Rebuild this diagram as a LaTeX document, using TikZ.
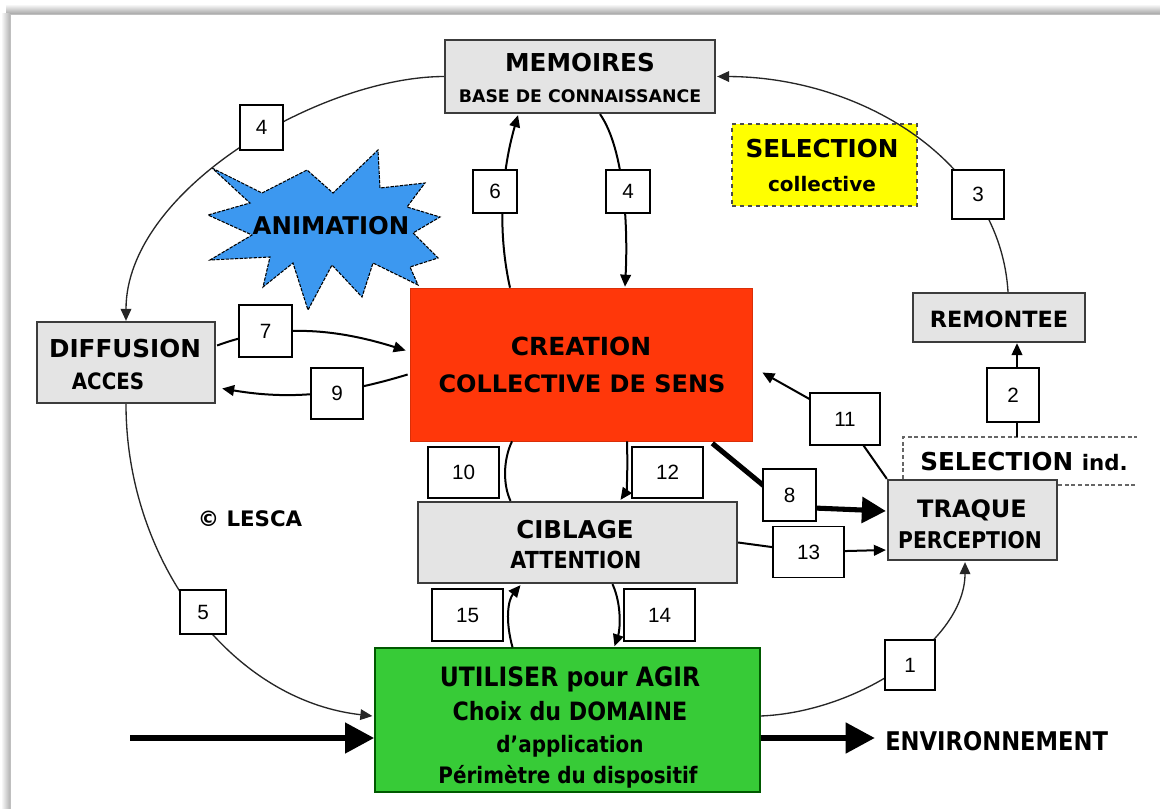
\documentclass[tikz,border=0pt]{standalone}
\usepackage{fontspec}
\setmainfont{DejaVu Sans}
\newfontfamily\condfont[FakeStretch=0.88]{DejaVu Sans}
\newfontfamily\digitfont{Liberation Sans}
\usetikzlibrary{arrows.meta,calc}
\definecolor{boxgray}{RGB}{228,228,228}
\definecolor{framegray}{RGB}{60,60,60}
\definecolor{hotred}{RGB}{255,55,10}
\definecolor{leafgreen}{RGB}{55,203,55}
\definecolor{starblue}{RGB}{60,152,240}
\definecolor{selyellow}{RGB}{255,255,0}
\newcommand{\setfs}[1]{\fontsize{#1}{#1}\selectfont}
\pgfdeclarelayer{blocks}
\pgfdeclarelayer{lines}
\pgfsetlayers{blocks,lines,main}

\begin{document}
\begin{tikzpicture}[x=0.75pt,y=-0.75pt,
  sz/.style 2 args={minimum width=#1*0.75pt,minimum height=#2*0.75pt},
  grey box/.style={draw=framegray,line width=1.7pt,fill=boxgray,inner sep=0pt},
  numbox/.style={draw=black,line width=0.9pt,fill=white,inner sep=0pt,
    font=\digitfont\setfs{15.5}},
  lbl/.style={anchor=base,inner sep=0pt,text=black},
  ring/.style={draw=black!85,line width=1pt},
  link/.style={draw=black,line width=1.5pt},
  tip/.style={-{Triangle[length=9pt,width=8pt]}},
  bigtip/.style={-{Triangle[length=22pt,width=22pt]}},
  seldash/.style={draw=black!60,line width=0.9pt,dash pattern=on 3pt off 2pt}
]
\useasboundingbox (0,0) rectangle (1160,809);

\begin{pgfonlayer}{blocks}
\fill[white] (0,0) rectangle (1160,809);
% panel edge with its soft shadow
\shade[top color=white,bottom color=black!35] (6,4) rectangle (1160,14);
\shade[left color=white,right color=black!30] (1,14) rectangle (10,809);
\draw[black!25,line width=0.6pt] (10,809) -- (10,14.5) -- (1160,14.5);

% ---------------- main blocks ----------------
\node[grey box,sz={270}{73}] (mem) at (580,76.5) {};
\node[draw=black!70,dashed,line width=1pt,fill=selyellow,sz={185}{82}] (selc) at (824.5,165) {};
\node[grey box,sz={178}{81}] (diff) at (126,362.5) {};
\node[fill=hotred,draw=hotred!85!black,line width=0.5pt,sz={342}{153}] (crea) at (581,364.5) {};
\node[grey box,sz={172}{49}] (rem) at (999,317.5) {};
\node[grey box,sz={169}{80}] (traq) at (972.5,520) {};
\node[grey box,sz={319}{81}] (cib) at (577.5,542.5) {};
\node[fill=leafgreen,draw=green!35!black,line width=1pt,sz={385}{144}] (util) at (567.5,720) {};

% burst shape
\draw[fill=starblue,draw=black,line width=0.8pt,dash pattern=on 2.5pt off 1pt]
  (212,168) -- (262,193) -- (307,170) -- (333,193) -- (378,150) -- (380,188)
  -- (425,183) -- (407,207) -- (440,217) -- (413,233) -- (438,258) -- (410,267)
  -- (418,285) -- (373,263) -- (362,297) -- (332,265) -- (308,310) -- (293,263)
  -- (263,287) -- (270,257) -- (210,260) -- (252,235) -- (208,215) -- (250,203)
  -- cycle;

% individual selection frame
\coordinate (sa) at (903,437);
\coordinate (sb) at (1137,437);
\coordinate (sc) at (1137,485);
\coordinate (s2) at (1017,437);
\draw[seldash] (sa |- traq.north) -- (sa) -- (sb);
\draw[seldash] (traq.east |- sc) -- (sc);
\end{pgfonlayer}

% ---------------- texts ----------------
\node[lbl,font=\bfseries\setfs{18.5}] (memA) at (580,72) {MEMOIRES};
\node[lbl,font=\bfseries\setfs{13}] (memB) at (580,103) {BASE DE CONNAISSANCE};
\node[lbl,font=\bfseries\setfs{18.5}] (selA) at (822,158) {SELECTION};
\node[lbl,font=\bfseries\setfs{15}] (selB) at (822,192) {collective};
\node[lbl,font=\bfseries\setfs{18.3}] (anim) at (331,235) {ANIMATION};
\node[lbl,font=\bfseries\setfs{18.5}] (diffA) at (125,357) {DIFFUSION};
\node[lbl,font=\condfont\bfseries\setfs{16.9}] (diffB) at (108,389) {ACCES};
\node[lbl,font=\bfseries\setfs{18.7}] (creaA) at (581,355) {CREATION};
\node[lbl,font=\bfseries\setfs{18}] (creaB) at (582,392) {COLLECTIVE DE SENS};
\node[lbl,font=\bfseries\setfs{16.8}] (remA) at (999,328) {REMONTEE};
\node[lbl,anchor=base west,font=\bfseries\setfs{18.5}] (selI) at (920,470) {SELECTION {\setfs{16}ind.}};
\node[lbl,font=\bfseries\setfs{18}] (traqA) at (972,517) {TRAQUE};
\node[lbl,font=\condfont\bfseries\setfs{17.3}] (traqB) at (970,548) {PERCEPTION};
\node[lbl,font=\bfseries\setfs{18.4}] (cibA) at (575,538) {CIBLAGE};
\node[lbl,font=\condfont\bfseries\setfs{17.6}] (cibB) at (576,568) {ATTENTION};
\node[lbl,font=\condfont\bfseries\setfs{20}] (utilA) at (570,686) {UTILISER pour AGIR};
\node[lbl,font=\condfont\bfseries\setfs{18.9}] (utilB) at (570,720) {Choix du DOMAINE};
\node[lbl,font=\condfont\bfseries\setfs{17}] (utilC) at (570,752) {d’application};
\node[lbl,font=\condfont\bfseries\setfs{17}] (utilD) at (568,783) {Périmètre du dispositif};
\node[lbl,anchor=base west,font=\condfont\bfseries\setfs{19.3}] (env) at (885,750) {ENVIRONNEMENT};
\node[lbl,font=\bfseries\setfs{16}] (lesca) at (250,526) {© LESCA};

% ---------------- number tags ----------------
\node[numbox,sz={43}{45}] (n4a) at (261.5,127.5) {4};
\node[numbox,sz={44}{43}] (n6) at (495,191.5) {6};
\node[numbox,sz={44}{43}] (n4b) at (628,191.5) {4};
\node[numbox,sz={52}{49}] (n3) at (978,194.5) {3};
\node[numbox,sz={53}{52}] (n7) at (265.5,331) {7};
\node[numbox,sz={52}{51}] (n9) at (337,393.5) {9};
\node[numbox,sz={52}{54}] (n2) at (1013,395) {2};
\node[numbox,sz={70}{52}] (n11) at (845,419) {11};
\node[numbox,sz={53}{52}] (n8) at (789.5,495) {8};
\node[numbox,sz={71}{51}] (n13) at (808.5,552) {13};
\node[numbox,sz={71}{51}] (n10) at (463.5,472.5) {10};
\node[numbox,sz={71}{51}] (n12) at (667.5,472.5) {12};
\node[numbox,sz={71}{52}] (n15) at (467.5,615) {15};
\node[numbox,sz={71}{52}] (n14) at (659.5,615) {14};
\node[numbox,sz={46}{44}] (n5) at (203,612) {5};
\node[numbox,sz={50}{50}] (n1) at (910,665) {1};

\begin{pgfonlayer}{lines}
% ---------------- outer cycle ----------------
\draw[ring,tip] (mem.west) .. controls (320,77) and (126,190) .. (diff.north);
\draw[ring,tip] (diff.south) .. controls (126,560) and (230,700) .. ($(util.west)+(-2,-4)$);
\draw[ring,tip] ($(util.east)+(0,-4)$) .. controls (860,712) and (965,640) .. ($(traq.south)+(-7.5,1)$);
\draw[ring,tip] ($(rem.north)+(9,0)$) .. controls (1000,160) and (860,77) .. ($(mem.east)+(1,0)$);
\draw[link,tip] (s2) -- (s2 |- rem.south);

% ---------------- inner links ----------------
\draw[link,tip] ($(crea.north)+(-71,0)$) .. controls (495,220) and (505,160) .. ($(mem.south)+(-62,1)$);
\draw[link,tip] ($(mem.south)+(20,0)$) .. controls (625,150) and (628,230) .. ($(crea.north)+(44,-1)$);
\draw[link,tip] ($(diff.east)+(1,-17)$) .. controls (280,322) and (340,330) .. ($(crea.west)+(-4,-14)$);
\draw[link,tip] ($(crea.west)+(-2,10)$) .. controls (340,395) and (290,400) .. ($(diff.east)+(6,26)$);
\draw[link] ($(crea.south)+(-69,0)$) .. controls (503,460) and (503,485) .. ($(cib.north)+(-67,0)$);
\draw[link,tip] ($(crea.south)+(46,0)$) .. controls (628,480) and (626,492) .. ($(cib.north)+(43,-1)$);
\draw[link,tip] ($(util.north)+(-55,0)$) .. controls (505,620) and (508,600) .. ($(cib.south)+(-57,1)$);
\draw[link,tip] ($(cib.south)+(35,0)$) .. controls (622,605) and (620,630) .. ($(util.north)+(47,-1)$);
\draw[line width=3.8pt,line join=round,-{Triangle[length=18pt,width=19pt]}]
  ($(crea.south east)+(-40,2)$) -- ($(n8.center)+(0,12)$) -- ($(traq.west)+(-1,-9)$);
\draw[link,tip] (cib.east) -- (n13.center) -- ($(traq.west)+(-1,30)$);
\draw[link,tip] (traq.north west) -- (n11.center) -- ($(crea.east)+(10,8)$);

% ---------------- flow through the action block ----------------
\coordinate (inlet) at (130,738);
\draw[line width=5pt,bigtip] (inlet) -- (inlet -| util.west);
\draw[line width=5pt,bigtip] (util.east |- inlet) -- ($(inlet -| env.west)+(-10,0)$);
\end{pgfonlayer}
\end{tikzpicture}
\end{document}
